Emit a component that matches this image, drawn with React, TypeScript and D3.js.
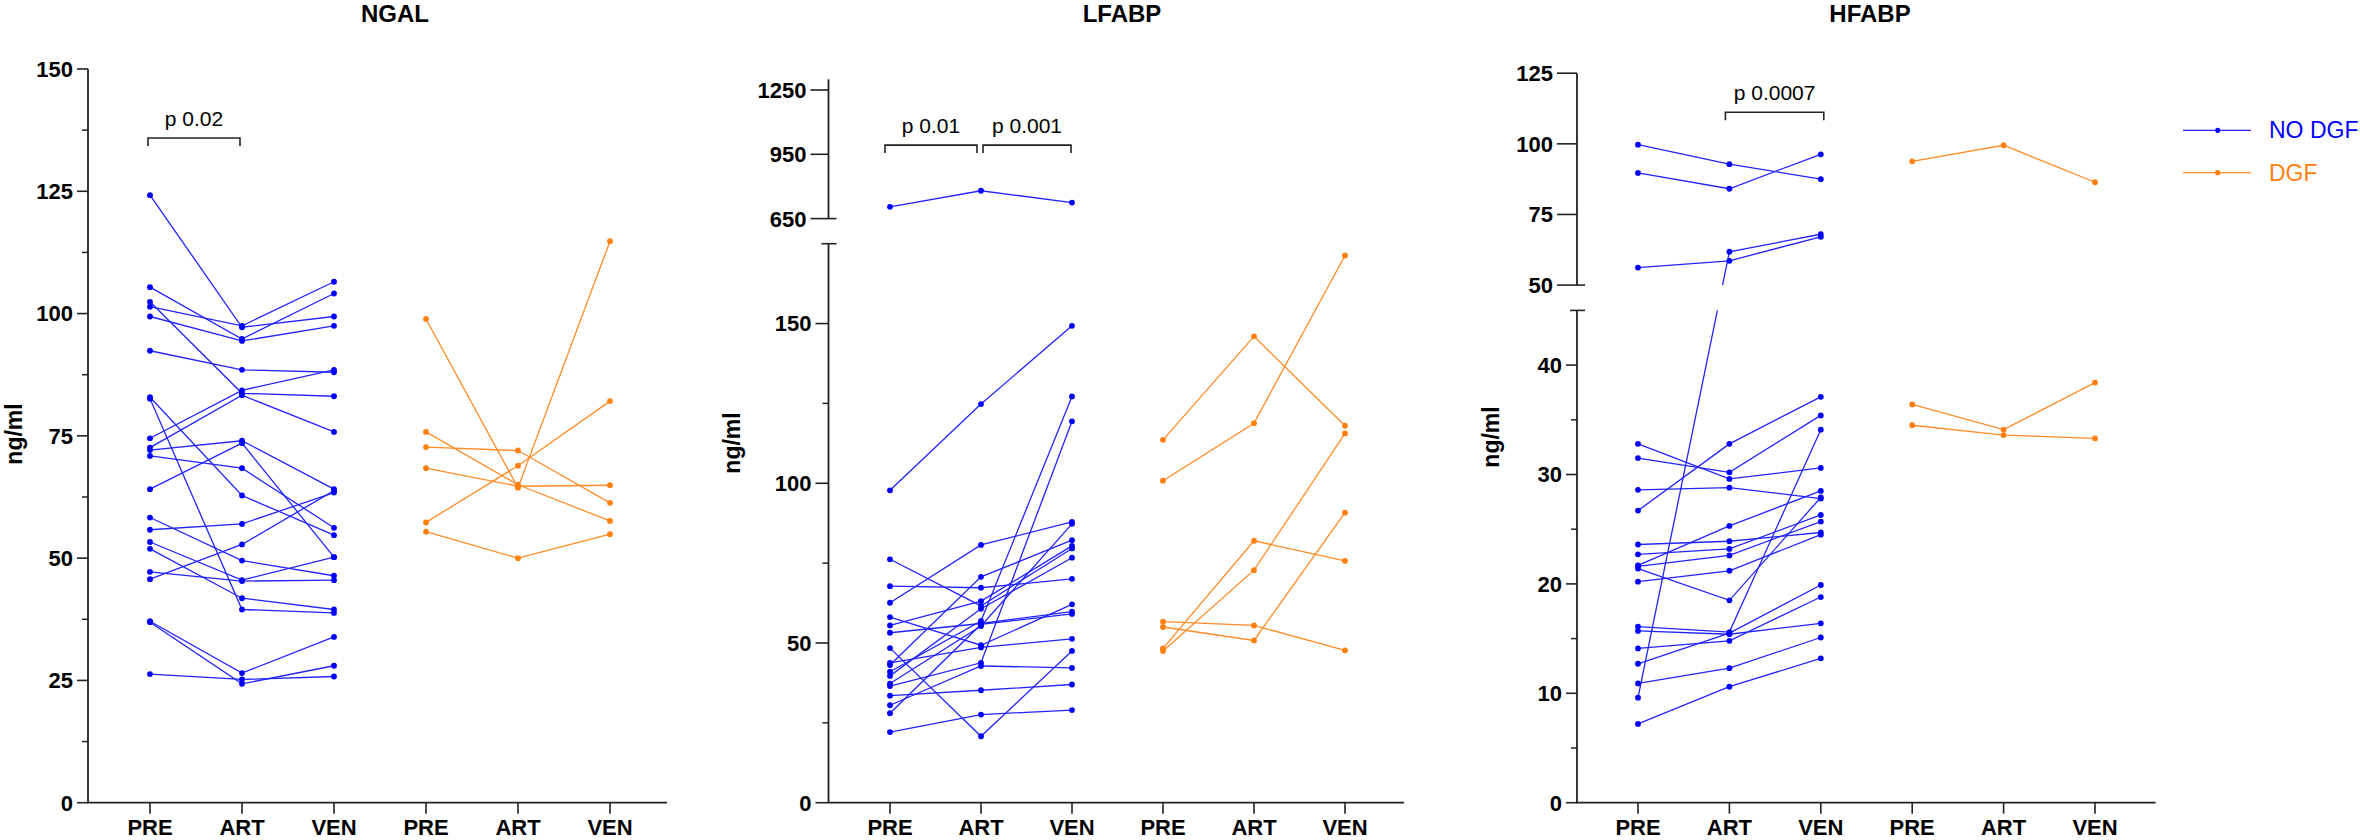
import React from "react";
import * as d3 from "d3";

const TIMEPOINTS = ["PRE", "ART", "VEN"];
const GROUPS = ["NO DGF", "DGF"];
const CATEGORIES = ["NO DGF|PRE", "NO DGF|ART", "NO DGF|VEN", "DGF|PRE", "DGF|ART", "DGF|VEN"];

// ---------- NGAL ----------
const NGAL_NODGF_PRE = [124.2, 105.4, 102.4, 101.4, 99.4, 92.4, 82.9, 82.6, 74.5, 72.6, 72.1, 70.9, 64.1, 58.3, 55.8, 53.3, 51.9, 47.2, 45.7, 37.1, 36.9, 26.3];
const NGAL_NODGF_ART = [97.2, 94.8, 83.7, 97.5, 94.4, 88.5, 62.8, 39.5, 84.3, 83.3, 74.0, 68.4, 73.5, 49.5, 57.0, 45.5, 41.8, 45.3, 52.8, 26.5, 24.3, 25.2];
const NGAL_NODGF_VEN = [99.4, 104.1, 83.1, 106.5, 97.5, 88.0, 54.7, 38.8, 88.5, 75.8, 64.1, 56.2, 50.2, 46.4, 63.4, 50.2, 39.5, 45.5, 63.8, 33.9, 28.0, 25.8];
const NGAL_DGF_PRE = [98.9, 75.8, 72.7, 68.4, 57.3, 55.4];
const NGAL_DGF_ART = [64.4, 65.0, 72.0, 64.7, 68.9, 50.0];
const NGAL_DGF_VEN = [114.8, 57.6, 61.3, 64.9, 82.1, 54.9];

// ---------- LFABP ----------
const LFABP_NODGF_PRE = [705, 97.8, 76.2, 67.8, 62.6, 58.1, 55.5, 53.2, 48.4, 43.8, 43.1, 41.0, 39.7, 37.3, 36.5, 33.5, 30.5, 28.0, 22.1];
const LFABP_NODGF_ART = [780, 124.8, 61.6, 67.3, 80.7, 49.3, 63.1, 56.1, 20.8, 48.6, 70.7, 56.9, 60.7, 55.3, 43.8, 35.2, 42.8, 55.8, 27.6];
const LFABP_NODGF_VEN = [725, 149.3, 79.6, 70.1, 87.9, 62.1, 80.4, 59.8, 47.5, 51.3, 82.2, 127.2, 76.7, 87.3, 119.4, 37.0, 42.2, 59.1, 29.0];
const LFABP_DGF_PRE = [113.6, 100.8, 48.3, 47.5, 56.7, 55.0];
const LFABP_DGF_ART = [146.0, 118.8, 82.0, 72.8, 55.5, 50.8];
const LFABP_DGF_VEN = [118.0, 171.3, 75.7, 115.6, 47.7, 90.8];

// ---------- HFABP ----------
const HFABP_NODGF_PRE = [99.7, 89.7, 56.2, 9.6, 26.7, 32.8, 31.5, 28.6, 23.6, 22.7, 21.7, 21.6, 21.4, 20.2, 16.1, 15.7, 14.1, 12.7, 10.9, 7.2];
const HFABP_NODGF_ART = [92.8, 84.1, 58.6, 61.8, 32.8, 29.6, 30.2, 28.8, 23.9, 23.2, 25.3, 22.6, 18.5, 21.2, 15.6, 15.4, 14.8, 15.5, 12.3, 10.6];
const HFABP_NODGF_VEN = [87.5, 96.3, 67.1, 68.0, 37.1, 30.6, 35.4, 27.8, 24.7, 26.3, 28.5, 25.7, 27.9, 24.5, 34.1, 16.4, 18.8, 19.9, 15.1, 13.2];
const HFABP_DGF_PRE = [93.8, 36.4, 34.5];
const HFABP_DGF_ART = [99.5, 34.1, 33.6];
const HFABP_DGF_VEN = [86.4, 38.4, 33.3];

// ---------- axis ticks ----------
const NGAL_MAJOR = [0, 25, 50, 75, 100, 125, 150];
const NGAL_MINOR = [12.5, 37.5, 62.5, 87.5, 112.5, 137.5];
const LFABP_LOW_MAJOR = [0, 50, 100, 150];
const LFABP_LOW_MINOR = [25, 75, 125];
const LFABP_HIGH_MAJOR = [650, 950, 1250];
const HFABP_LOW_MAJOR = [0, 10, 20, 30, 40];
const HFABP_LOW_MINOR = [5, 15, 25, 35];
const HFABP_HIGH_MAJOR = [50, 75, 100, 125];

const BLUE = "#0000ff";
const BLUE_LINE = "#2323ff";
const ORANGE = "#ff7f0f";
const ORANGE_LINE = "#ff8c26";
const AXIS = "#222";
const FONT = "'Liberation Sans', Arial, Helvetica, sans-serif";
const BASE_Y = 802.7;

type Seg = { domain: [number, number]; range: [number, number]; major: number[]; minor: number[]; tickLen: number; breakTop?: boolean; breakBottom?: boolean };

type Panel = {
  id: string;
  title: string;
  titleX: number;
  axisX: number;
  endX: number;
  catRange: [number, number];
  segs: Seg[];
  ylabel: [number, number];
  blue: number[][];
  orange: number[][];
  brackets: { from: number; to: number; value: number; label: string; dx0: number; dx1: number }[];
};

const PANELS: Panel[] = [
  {
    id: "ngal", title: "NGAL", titleX: 395, axisX: 88, endX: 667, catRange: [150, 610],
    segs: [{ domain: [0, 150], range: [BASE_Y, 69], major: NGAL_MAJOR, minor: NGAL_MINOR, tickLen: 11 }],
    ylabel: [14, 434],
    blue: [NGAL_NODGF_PRE, NGAL_NODGF_ART, NGAL_NODGF_VEN],
    orange: [NGAL_DGF_PRE, NGAL_DGF_ART, NGAL_DGF_VEN],
    brackets: [{ from: 0, to: 1, value: 135.9, label: "p 0.02", dx0: -2, dx1: -2 }],
  },
  {
    id: "lfabp", title: "LFABP", titleX: 1122, axisX: 828.5, endX: 1404, catRange: [890, 1345],
    segs: [
      { domain: [0, 175], range: [BASE_Y, 243.7], major: LFABP_LOW_MAJOR, minor: LFABP_LOW_MINOR, tickLen: 13, breakTop: true },
      { domain: [650, 1300], range: [218.6, 79.3], major: LFABP_HIGH_MAJOR, minor: [], tickLen: 18, breakBottom: true },
    ],
    ylabel: [732, 443],
    blue: [LFABP_NODGF_PRE, LFABP_NODGF_ART, LFABP_NODGF_VEN],
    orange: [LFABP_DGF_PRE, LFABP_DGF_ART, LFABP_DGF_VEN],
    brackets: [
      { from: 0, to: 1, value: 993, label: "p 0.01", dx0: -5, dx1: -4 },
      { from: 1, to: 2, value: 993, label: "p 0.001", dx0: 2, dx1: -1 },
    ],
  },
  {
    id: "hfabp", title: "HFABP", titleX: 1870, axisX: 1577, endX: 2155.6, catRange: [1638, 2095],
    segs: [
      { domain: [0, 45], range: [BASE_Y, 310.4], major: HFABP_LOW_MAJOR, minor: HFABP_LOW_MINOR, tickLen: 11, breakTop: true },
      { domain: [50, 125], range: [285.1, 73.2], major: HFABP_HIGH_MAJOR, minor: [], tickLen: 20, breakBottom: true },
    ],
    ylabel: [1491, 437],
    blue: [HFABP_NODGF_PRE, HFABP_NODGF_ART, HFABP_NODGF_VEN],
    orange: [HFABP_DGF_PRE, HFABP_DGF_ART, HFABP_DGF_VEN],
    brackets: [{ from: 1, to: 2, value: 111.2, label: "p 0.0007", dx0: -4, dx1: 3 }],
  },
];

function PanelView({ p }: { p: Panel }) {
  const x = d3.scalePoint<string>().domain(CATEGORIES).range(p.catRange);
  const scales = p.segs.map((s) => d3.scaleLinear().domain(s.domain).range(s.range));
  const yOf = (v: number) => {
    let idx = p.segs.findIndex((s) => v >= s.domain[0] && v <= s.domain[1]);
    if (idx < 0) idx = v > p.segs[0].domain[1] ? p.segs.length - 1 : 0;
    return scales[idx](v);
  };
  const line = d3.line<[number, number]>().x((d) => d[0]).y((d) => d[1]);
  const series = (arrs: number[][], group: string) =>
    arrs[0].map((_, i) => TIMEPOINTS.map((t, k) => [x(`${group}|${t}`)!, yOf(arrs[k][i])] as [number, number]));
  const blueRows = series(p.blue, GROUPS[0]);
  const orangeRows = series(p.orange, GROUPS[1]);
  const broken = p.segs.length > 1;
  const clipId = `clip-${p.id}`;

  return (
    <g>
      {broken && (
        <defs>
          <clipPath id={clipId}>
            <rect x={p.axisX - 40} y={0} width={p.endX - p.axisX + 80} height={p.segs[1].range[0]} />
            <rect x={p.axisX - 40} y={p.segs[0].range[1]} width={p.endX - p.axisX + 80} height={840 - p.segs[0].range[1]} />
          </clipPath>
        </defs>
      )}
      <text x={p.titleX} y={22} textAnchor="middle" fontFamily={FONT} fontWeight="bold" fontSize={24} fill="#000">{p.title}</text>
      <text transform={`translate(${p.ylabel[0]},${p.ylabel[1]}) rotate(-90)`} textAnchor="middle" dominantBaseline="central" fontFamily={FONT} fontWeight="bold" fontSize={23} fill="#000">ng/ml</text>

      {/* y axis segments */}
      {p.segs.map((s, si) => {
        const sc = scales[si];
        return (
          <g key={si}>
            <line x1={p.axisX} x2={p.axisX} y1={s.range[0]} y2={s.range[1]} stroke={AXIS} strokeWidth={1.8} />
            {s.major.map((v) => (
              <g key={v}>
                <line x1={p.axisX - s.tickLen} x2={p.axisX} y1={sc(v)} y2={sc(v)} stroke={AXIS} strokeWidth={1.6} />
                <text x={p.axisX - s.tickLen - 4} y={sc(v)} dy="0.36em" textAnchor="end" fontFamily={FONT} fontWeight="bold" fontSize={22} fill="#000">{v}</text>
              </g>
            ))}
            {s.minor.map((v) => (
              <line key={v} x1={p.axisX - 6} x2={p.axisX} y1={sc(v)} y2={sc(v)} stroke={AXIS} strokeWidth={1.5} />
            ))}
            {s.breakTop && <line x1={p.axisX - 7} x2={p.axisX + 8} y1={s.range[1]} y2={s.range[1]} stroke={AXIS} strokeWidth={1.6} />}
            {s.breakBottom && <line x1={p.axisX} x2={p.axisX + 8} y1={s.range[0]} y2={s.range[0]} stroke={AXIS} strokeWidth={1.6} />}
          </g>
        );
      })}

      {/* x axis */}
      <line x1={p.axisX - 1} x2={p.endX} y1={BASE_Y} y2={BASE_Y} stroke={AXIS} strokeWidth={1.8} />
      {CATEGORIES.map((c) => (
        <g key={c}>
          <line x1={x(c)!} x2={x(c)!} y1={BASE_Y} y2={BASE_Y + 11} stroke={AXIS} strokeWidth={1.6} />
          <text x={x(c)!} y={835} textAnchor="middle" fontFamily={FONT} fontWeight="bold" fontSize={22} fill="#000">{c.split("|")[1]}</text>
        </g>
      ))}

      {/* data */}
      <g clipPath={broken ? `url(#${clipId})` : undefined}>
        {orangeRows.map((r, i) => (
          <path key={`o${i}`} d={line(r)!} fill="none" stroke={ORANGE_LINE} strokeWidth={1.3} />
        ))}
        {blueRows.map((r, i) => (
          <path key={`b${i}`} d={line(r)!} fill="none" stroke={BLUE_LINE} strokeWidth={1.3} />
        ))}
      </g>
      {orangeRows.flat().map((pt, i) => (
        <circle key={`oc${i}`} cx={pt[0]} cy={pt[1]} r={2.9} fill={ORANGE} />
      ))}
      {blueRows.flat().map((pt, i) => (
        <circle key={`bc${i}`} cx={pt[0]} cy={pt[1]} r={2.9} fill={BLUE} />
      ))}

      {/* brackets */}
      {p.brackets.map((b, i) => {
        const x0 = x(`${GROUPS[0]}|${TIMEPOINTS[b.from]}`)! + b.dx0;
        const x1 = x(`${GROUPS[0]}|${TIMEPOINTS[b.to]}`)! + b.dx1;
        const y = yOf(b.value);
        return (
          <g key={i}>
            <path d={`M${x0},${y + 8}V${y}H${x1}V${y + 8}`} fill="none" stroke={AXIS} strokeWidth={1.6} />
            <text x={(x0 + x1) / 2} y={y - 12} textAnchor="middle" fontFamily={FONT} fontSize={21} fill="#000">{b.label}</text>
          </g>
        );
      })}
    </g>
  );
}

export default function App() {
  return (
    <svg width={2360} height={840} style={{ position: "absolute", left: 0, top: 0, display: "block", background: "#fff" }}>
      <rect width={2360} height={840} fill="#fff" />
      {PANELS.map((p) => (
        <PanelView key={p.id} p={p} />
      ))}
      {/* legend */}
      <g>
        <line x1={2183} x2={2251} y1={130.3} y2={130.3} stroke={BLUE_LINE} strokeWidth={1.3} />
        <circle cx={2217.7} cy={130.3} r={2.6} fill={BLUE} />
        <text x={2269} y={138.3} fontFamily={FONT} fontSize={23} fill={BLUE}>{GROUPS[0]}</text>
        <line x1={2183} x2={2251} y1={172.7} y2={172.7} stroke={ORANGE_LINE} strokeWidth={1.3} />
        <circle cx={2217.7} cy={172.7} r={2.6} fill={ORANGE} />
        <text x={2269} y={181} fontFamily={FONT} fontSize={23} fill={ORANGE}>{GROUPS[1]}</text>
      </g>
    </svg>
  );
}
